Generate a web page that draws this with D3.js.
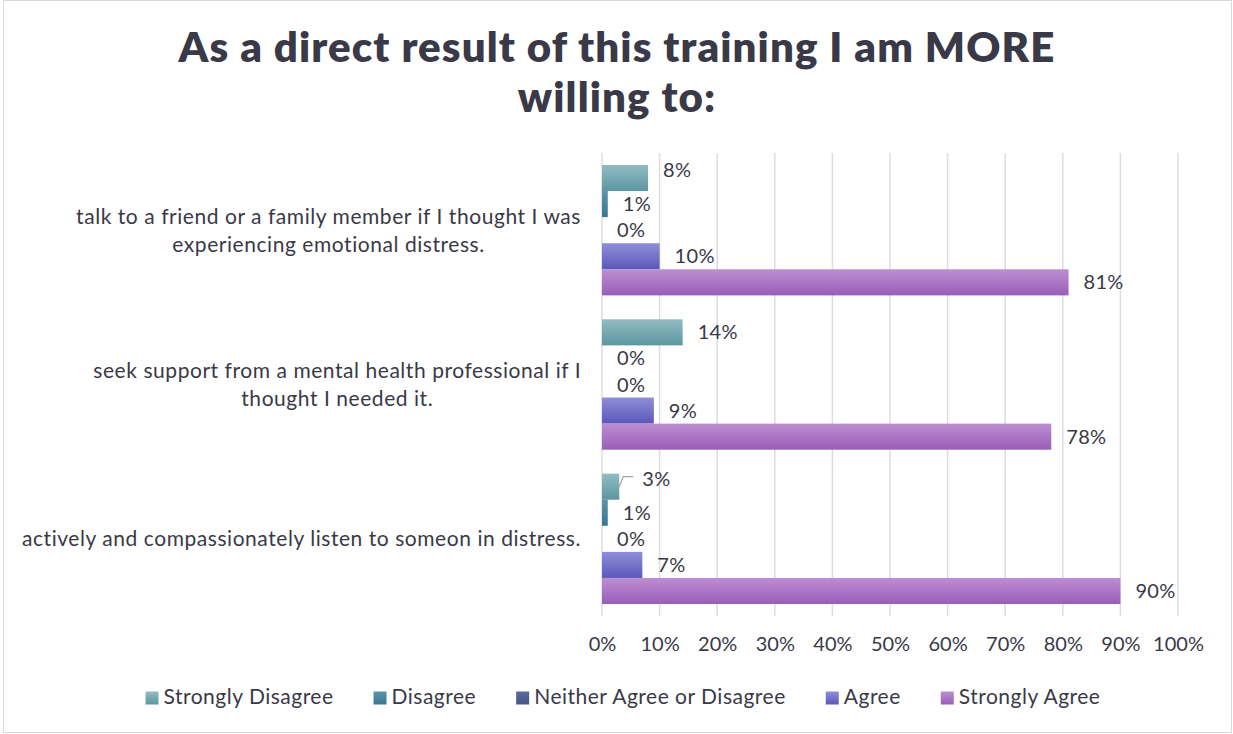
<!DOCTYPE html>
<html>
<head>
<meta charset="utf-8">
<script src="https://cdn.jsdelivr.net/npm/d3@7"></script>
<style>
  html, body { margin: 0; padding: 0; background: #fff; }
  svg { display: block; font-family: Lato, "Open Sans", sans-serif; }
</style>
</head>
<body>
<svg id="chart" width="1233" height="734"></svg>
<script>
// Survey statements (line breaks mark where each label wraps)
const categories = [
  "talk to a friend or a family member if I thought I was\nexperiencing emotional distress.",
  "seek support from a mental health professional if I\nthought I needed it.",
  "actively and compassionately listen to someon in distress."
];
const seriesNames = ["Strongly Disagree", "Disagree", "Neither Agree or Disagree", "Agree", "Strongly Agree"];
// Share of responses per statement, one array per response option
const stronglyDisagree = [0.08, 0.14, 0.03];
const disagree         = [0.01, 0.00, 0.01];
const neither          = [0.00, 0.00, 0.00];
const agree            = [0.10, 0.09, 0.07];
const stronglyAgree    = [0.81, 0.78, 0.90];
const tickValues = [0, 0.1, 0.2, 0.3, 0.4, 0.5, 0.6, 0.7, 0.8, 0.9, 1.0];
const titleLines = ["As a direct result of this training I am MORE", "willing to:"];

const seriesValues = [stronglyDisagree, disagree, neither, agree, stronglyAgree];
const rows = [];
categories.forEach((c, ci) => {
  seriesNames.forEach((s, si) => rows.push({ category: c, series: s, si, ci, value: seriesValues[si][ci] }));
});

// Gradient stops (top, bottom) for each response option
const gradients = [
  ["#93bcc2", "#5b96a1"],
  ["#5a93aa", "#3c7792"],
  ["#5a6a98", "#46568a"],
  ["#908ed9", "#5a58ba"],
  ["#bb8fd2", "#9a5db8"]
];

const textColor = "#393948";
const svg = d3.select("#chart");

// Chart frame
svg.append("rect")
  .attr("x", 3.5).attr("y", 0.5).attr("width", 1228).attr("height", 732)
  .attr("fill", "#fff").attr("stroke", "#d9d9d9").attr("stroke-width", 1);

const defs = svg.append("defs");
gradients.forEach((g, i) => {
  const lg = defs.append("linearGradient").attr("id", "grad" + i)
    .attr("x1", 0).attr("y1", 0).attr("x2", 0).attr("y2", 1);
  lg.append("stop").attr("offset", "0%").attr("stop-color", g[0]);
  lg.append("stop").attr("offset", "100%").attr("stop-color", g[1]);
});

// Scales
const plot = { left: 602, right: 1178, top: 153, bottom: 616 };
const x = d3.scaleLinear().domain([0, 1]).range([plot.left, plot.right]);
const y0 = d3.scaleBand().domain(categories).range([plot.top, plot.bottom])
  .paddingInner(0.155).paddingOuter(0.0775);
const y1 = d3.scaleBand().domain(seriesNames).range([0, y0.bandwidth()]);

// Title
svg.append("text")
  .attr("x", 617).attr("y", 62)
  .attr("text-anchor", "middle")
  .attr("fill", textColor)
  .attr("font-weight", 800)
  .attr("font-size", 42)
  .attr("letter-spacing", 1.1)
  .selectAll("tspan").data(titleLines).join("tspan")
  .attr("x", 617).attr("dy", (d, i) => i === 0 ? 0 : 50)
  .text(d => d);

// Vertical gridlines
svg.append("g").selectAll("line").data(tickValues).join("line")
  .attr("x1", d => x(d)).attr("x2", d => x(d))
  .attr("y1", plot.top).attr("y2", plot.bottom)
  .attr("stroke", "#dcdce4").attr("stroke-width", 1.5);

// X axis labels
const xAxis = d3.axisBottom(x).tickValues(tickValues).tickFormat(d3.format(".0%")).tickSize(0).tickPadding(21);
const gx = svg.append("g").attr("transform", `translate(0,${plot.bottom})`).call(xAxis);
gx.select(".domain").remove();
gx.selectAll("text").attr("fill", textColor).attr("font-size", 20).attr("font-family", "Lato, sans-serif");

// Bars
const bars = svg.append("g");
bars.selectAll("rect").data(rows).join("rect")
  .attr("x", x(0))
  .attr("y", d => y0(d.category) + y1(d.series))
  .attr("width", d => x(d.value) - x(0))
  .attr("height", y1.bandwidth())
  .attr("fill", d => `url(#grad${d.si})`);

// Label nudges for crowded small bars (category index, series index -> dx, dy)
const labelNudge = { "0-0": [0, -8], "2-0": [8, -8] };

const labels = svg.append("g").attr("fill", textColor).attr("font-size", 20).attr("letter-spacing", 0.3);
labels.selectAll("text").data(rows).join("text")
  .attr("x", d => x(d.value) + 15 + (labelNudge[d.ci + "-" + d.si] || [0, 0])[0])
  .attr("y", d => y0(d.category) + y1(d.series) + y1.bandwidth() / 2 + (labelNudge[d.ci + "-" + d.si] || [0, 0])[1])
  .attr("dy", "0.35em")
  .text(d => d3.format(".0%")(d.value));

// Leader line for the nudged 3% label
const leaderRow = rows.find(r => r.ci === 2 && r.si === 0);
const ly = y0(leaderRow.category) + y1(leaderRow.series) + y1.bandwidth() / 2;
svg.append("path")
  .attr("d", `M${x(leaderRow.value)},${ly} L${x(leaderRow.value) + 4},${ly - 10} L${x(leaderRow.value) + 14},${ly - 10}`)
  .attr("fill", "none").attr("stroke", "#a6a6a6").attr("stroke-width", 1.2);

// Category labels: wrapped lines centred within a block that is right-aligned to the plot
const catG = svg.append("g").attr("fill", textColor).attr("font-size", 21).attr("letter-spacing", 0.55);
const labelRight = 581;
categories.forEach(c => {
  const lines = c.split("\n");
  const t = catG.append("text").attr("text-anchor", "middle");
  const cy = y0(c) + y0.bandwidth() / 2;
  const lh = 28;
  lines.forEach((ln, i) => {
    t.append("tspan").attr("dy", i === 0 ? "0.35em" : lh).text(ln);
  });
  // measure widest line
  let maxW = 0;
  t.selectAll("tspan").each(function () { maxW = Math.max(maxW, this.getComputedTextLength()); });
  const cx = labelRight - maxW / 2;
  t.attr("x", cx).attr("y", cy - (lines.length - 1) * lh / 2);
  t.selectAll("tspan").attr("x", cx);
});

// Legend
const legend = svg.append("g").attr("font-size", 21).attr("letter-spacing", 0.5).attr("fill", textColor);
const sq = 13, gapIn = 5, gapOut = 40;
const items = seriesNames.map((s, i) => {
  const g = legend.append("g");
  g.append("rect").attr("width", sq).attr("height", sq).attr("y", -sq / 2 + 1).attr("fill", `url(#grad${i})`);
  const t = g.append("text").attr("x", sq + gapIn).attr("dy", "0.35em").text(s);
  return { g, w: sq + gapIn + t.node().getComputedTextLength() };
});
const total = d3.sum(items, d => d.w) + gapOut * (items.length - 1);
let lx = 623 - total / 2;
items.forEach(it => {
  it.g.attr("transform", `translate(${lx},697)`);
  lx += it.w + gapOut;
});
</script>
</body>
</html>
